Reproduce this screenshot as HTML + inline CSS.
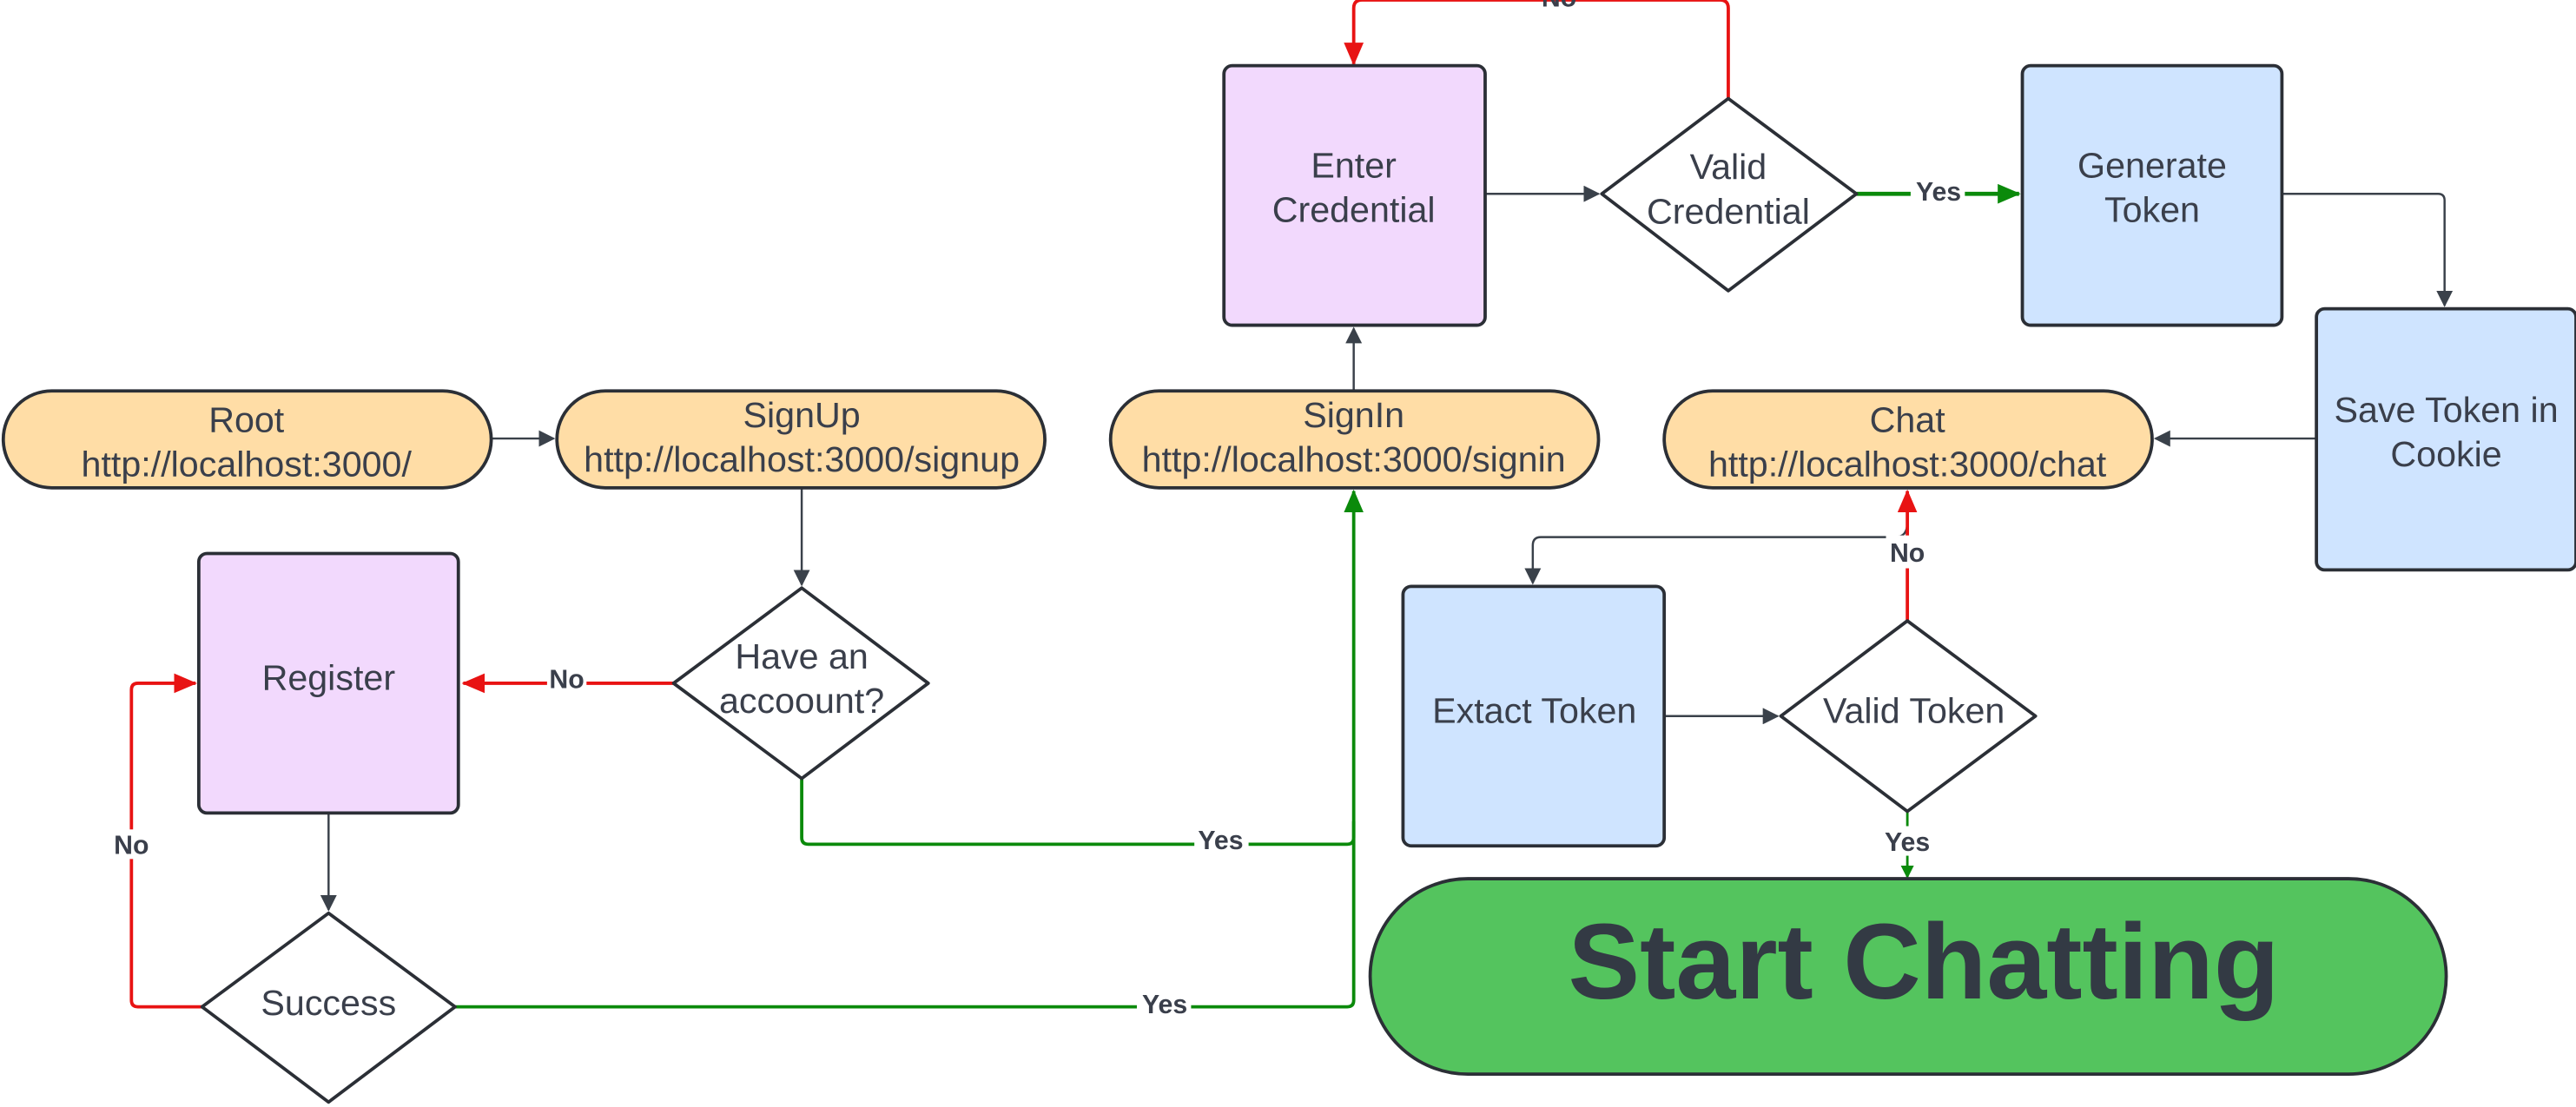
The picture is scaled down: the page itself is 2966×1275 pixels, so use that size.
<!DOCTYPE html>
<html><head><meta charset="utf-8"><style>
html,body{margin:0;padding:0;background:#fff;}
svg{display:block;}
text{font-family:"Liberation Sans",sans-serif;fill:#3a3f4b;}
.n{font-size:21.8px;text-anchor:middle;}
.l{font-size:16px;font-weight:bold;text-anchor:middle;}
</style></head><body>
<svg width="2966" height="1275" viewBox="0 0 1568 674" preserveAspectRatio="none" xmlns="http://www.w3.org/2000/svg">
<defs>
<marker id="ag" markerWidth="10" markerHeight="10" refX="9" refY="5" orient="auto" markerUnits="userSpaceOnUse"><path d="M0,0 L10,5 L0,10 z" fill="#3a414a"/></marker>
<marker id="ar" markerWidth="14" markerHeight="12" refX="13" refY="6" orient="auto" markerUnits="userSpaceOnUse"><path d="M0,0 L14,6 L0,12 z" fill="#e81313"/></marker>
<marker id="an" markerWidth="14" markerHeight="12" refX="13" refY="6" orient="auto" markerUnits="userSpaceOnUse"><path d="M0,0 L14,6 L0,12 z" fill="#0b8a0b"/></marker>
<marker id="as" markerWidth="8" markerHeight="8" refX="7" refY="4" orient="auto" markerUnits="userSpaceOnUse"><path d="M0,0 L8,4 L0,8 z" fill="#0b8a0b"/></marker>
</defs>
<g fill="none" stroke-width="1.3">
<path d="M299,267 H337" stroke="#3a414a" marker-end="url(#ag)"/>
<path d="M488,297 V356" stroke="#3a414a" marker-end="url(#ag)"/>
<path d="M200,495 V554" stroke="#3a414a" marker-end="url(#ag)"/>
<path d="M824,238 V200" stroke="#3a414a" marker-end="url(#ag)"/>
<path d="M904,118 H973" stroke="#3a414a" marker-end="url(#ag)"/>
<path d="M1389,118 H1484 Q1488,118 1488,122 V186" stroke="#3a414a" marker-end="url(#ag)"/>
<path d="M1410,267 H1312" stroke="#3a414a" marker-end="url(#ag)"/>
<path d="M1013,436 H1082" stroke="#3a414a" marker-end="url(#ag)"/>
<path d="M1161,318 Q1161,327 1154,327 H938 Q933,327 933,332 V355" stroke="#3a414a" marker-end="url(#ag)"/>
</g>
<g fill="none" stroke-width="2">
<path d="M410,416 H282" stroke="#e81313" marker-end="url(#ar)"/>
<path d="M123,613 H84 Q80,613 80,609 V420 Q80,416 84,416 H119" stroke="#e81313" marker-end="url(#ar)"/>
<path d="M1052,60 V5 Q1052,0 1047,0 H829 Q824,0 824,5 V39" stroke="#e81313" marker-end="url(#ar)"/>
<path d="M1161,378 V299" stroke="#e81313" marker-end="url(#ar)"/>
<path d="M488,474 V510 Q488,514 492,514 H820 Q824,514 824,510 V299" stroke="#0b8a0b" marker-end="url(#an)"/>
<path d="M277,613 H820 Q824,613 824,609 V500" stroke="#0b8a0b"/>
<path d="M1130,118 H1229" stroke="#0b8a0b" stroke-width="2.5" marker-end="url(#an)"/>
<path d="M1161,494 V534" stroke="#0b8a0b" stroke-width="1.5" marker-end="url(#as)"/>
</g>
<g fill="#fff">
<rect x="333" y="405" width="24" height="18"/><rect x="68" y="505" width="24" height="18"/>
<rect x="727" y="503" width="33" height="18"/><rect x="692" y="602" width="33" height="18"/>
<rect x="1163" y="108" width="33" height="18"/><rect x="1148" y="326" width="26" height="20"/>
<rect x="1144" y="503" width="34" height="18"/>
</g>
<g stroke="#2b2f36" stroke-width="2">
<rect x="2" y="238" width="297" height="59" rx="29.5" fill="#ffdda6"/>
<rect x="339" y="238" width="297" height="59" rx="29.5" fill="#ffdda6"/>
<rect x="676" y="238" width="297" height="59" rx="29.5" fill="#ffdda6"/>
<rect x="1013" y="238" width="297" height="59" rx="29.5" fill="#ffdda6"/>
<rect x="745" y="40" width="159" height="158" rx="5" fill="#f2d9fd"/>
<rect x="121" y="337" width="158" height="158" rx="5" fill="#f2d9fd"/>
<rect x="1231" y="40" width="158" height="158" rx="5" fill="#cfe4ff"/>
<rect x="1410" y="188" width="158" height="159" rx="5" fill="#cfe4ff"/>
<rect x="854" y="357" width="159" height="158" rx="5" fill="#cfe4ff"/>
<path d="M1052,60 L1130,118 L1052,177 L975,118 Z" fill="#fff" stroke-linejoin="round"/>
<path d="M488,358 L565,416 L488,474 L410,416 Z" fill="#fff" stroke-linejoin="round"/>
<path d="M200,556 L277,613 L200,671 L123,613 Z" fill="#fff" stroke-linejoin="round"/>
<path d="M1161,378 L1239,436 L1161,494 L1084,436 Z" fill="#fff" stroke-linejoin="round"/>
<rect x="834" y="535" width="655" height="119" rx="59.5" fill="#54c45e"/>
</g>
<text class="n" x="150" y="263">Root</text><text class="n" x="150" y="290">http://localhost:3000/</text>
<text class="n" x="488" y="260">SignUp</text><text class="n" x="488" y="287">http://localhost:3000/signup</text>
<text class="n" x="824" y="260">SignIn</text><text class="n" x="824" y="287">http://localhost:3000/signin</text>
<text class="n" x="1161" y="263">Chat</text><text class="n" x="1161" y="290">http://localhost:3000/chat</text>
<text class="n" x="824" y="108">Enter</text><text class="n" x="824" y="135">Credential</text>
<text class="n" x="1052" y="109">Valid</text><text class="n" x="1052" y="136">Credential</text>
<text class="n" x="1310" y="108">Generate</text><text class="n" x="1310" y="135">Token</text>
<text class="n" x="1489" y="257">Save Token in</text><text class="n" x="1489" y="284">Cookie</text>
<text class="n" x="200" y="420">Register</text>
<text class="n" x="488" y="407">Have an</text><text class="n" x="488" y="434">accoount?</text>
<text class="n" x="200" y="618">Success</text>
<text class="n" x="934" y="440">Extact Token</text>
<text class="n" x="1165" y="440">Valid Token</text>
<text x="1171" y="608" style="font-size:65.5px;font-weight:bold;text-anchor:middle;fill:#333a44">Start Chatting</text>
<text class="l" x="345" y="419">No</text>
<text class="l" x="80" y="520">No</text>
<text class="l" x="743" y="517">Yes</text>
<text class="l" x="709" y="617">Yes</text>
<text class="l" x="1180" y="122">Yes</text>
<text class="l" x="949" y="4">No</text>
<text class="l" x="1161" y="342">No</text>
<text class="l" x="1161" y="518">Yes</text>
</svg>
</body></html>
